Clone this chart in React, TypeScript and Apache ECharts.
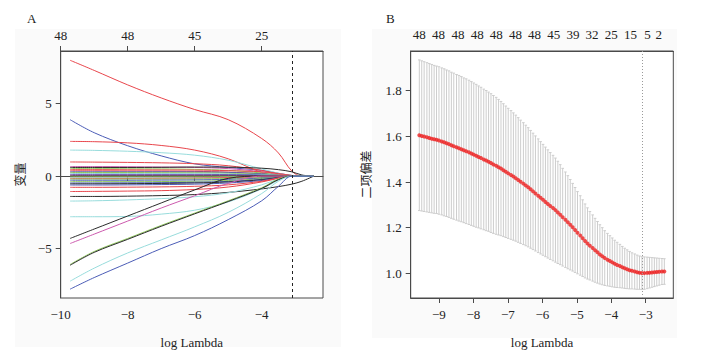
import React, { useEffect, useRef } from "react";
import * as echarts from "echarts";

// ---------- Panel A: coefficient paths ----------
const pathLogLambda = [-9.72, -9, -8, -7, -6, -5, -4, -3.5, -3.1, -2.8, -2.45];
const pathColors = [
  "red", "blue", "red", "cyan", "red", "magenta", "black", "green", "red", "red",
  "blue", "green", "cyan", "blue", "magenta", "black", "green", "cyan", "red", "green",
  "blue", "green", "blue", "black", "blue", "red", "red", "black", "cyan", "cyan",
  "black", "magenta", "green", "black", "cyan", "blue",
];
const pathValues = [
  [8.0, 7.3, 6.3, 5.4, 4.6, 3.9, 2.6, 1.6, 0.35, 0, 0],
  [3.9, 3.0, 2.1, 1.4, 0.85, 0.6, 0.4, 0.2, 0.05, 0, 0],
  [2.4, 2.38, 2.3, 2.12, 1.8, 1.2, 0.25, 0, 0, 0, 0],
  [1.8, 1.78, 1.72, 1.62, 1.45, 1.1, 0.5, 0.2, 0.02, 0, 0],
  [0.98, 0.97, 0.95, 0.92, 0.86, 0.72, 0.4, 0.15, 0, 0, 0],
  [0.66, 0.66, 0.65, 0.63, 0.6, 0.52, 0.3, 0.1, 0, 0, 0],
  [0.6, 0.6, 0.6, 0.61, 0.63, 0.62, 0.55, 0.45, 0.3, 0.08, 0],
  [0.52, 0.52, 0.51, 0.5, 0.47, 0.4, 0.22, 0.08, 0, 0, 0],
  [0.45, 0.45, 0.44, 0.43, 0.42, 0.38, 0.3, 0.18, 0.05, 0, 0],
  [0.37, 0.37, 0.36, 0.35, 0.33, 0.28, 0.15, 0.05, 0, 0, 0],
  [0.3, 0.3, 0.3, 0.3, 0.29, 0.26, 0.16, 0.06, 0, 0, 0],
  [0.25, 0.25, 0.25, 0.24, 0.23, 0.2, 0.12, 0.04, 0, 0, 0],
  [0.18, 0.18, 0.18, 0.18, 0.17, 0.15, 0.1, 0.05, 0, 0, 0],
  [0.12, 0.12, 0.12, 0.12, 0.12, 0.11, 0.08, 0.03, 0, 0, 0],
  [0.07, 0.07, 0.07, 0.07, 0.07, 0.06, 0.04, 0.02, 0, 0, 0],
  [0.02, 0.02, 0.02, 0.02, 0.02, 0.02, 0.01, 0, 0, 0, 0],
  [-0.05, -0.05, -0.05, -0.05, -0.05, -0.04, -0.02, 0, 0, 0, 0],
  [-0.1, -0.1, -0.1, -0.1, -0.1, -0.08, -0.05, -0.02, 0, 0, 0],
  [-0.15, -0.15, -0.15, -0.14, -0.13, -0.1, -0.05, 0, 0, 0, 0],
  [-0.2, -0.2, -0.2, -0.2, -0.19, -0.16, -0.1, -0.04, 0, 0, 0],
  [-0.28, -0.28, -0.28, -0.27, -0.26, -0.22, -0.14, -0.06, 0, 0, 0],
  [-0.38, -0.38, -0.38, -0.37, -0.35, -0.3, -0.18, -0.07, 0, 0, 0],
  [-0.47, -0.47, -0.46, -0.45, -0.42, -0.36, -0.22, -0.08, 0, 0, 0],
  [-0.53, -0.53, -0.52, -0.5, -0.47, -0.4, -0.25, -0.1, 0, 0, 0],
  [-0.61, -0.61, -0.6, -0.58, -0.55, -0.47, -0.3, -0.12, 0, 0, 0],
  [-0.77, -0.77, -0.76, -0.74, -0.7, -0.6, -0.35, -0.12, 0, 0, 0],
  [-1.06, -1.05, -1.03, -1.0, -0.92, -0.75, -0.4, -0.15, 0, 0, 0],
  [-1.4, -1.4, -1.38, -1.34, -1.27, -1.12, -0.88, -0.72, -0.55, -0.35, 0],
  [-1.72, -1.7, -1.64, -1.55, -1.42, -1.15, -0.6, -0.2, 0, 0, 0],
  [-2.8, -2.8, -2.78, -2.62, -2.35, -1.78, -0.88, -0.28, 0, 0, 0],
  [-4.3, -3.65, -2.75, -1.85, -0.95, -0.15, 0, 0, 0, 0, 0],
  [-4.65, -4.0, -3.1, -2.2, -1.35, -0.5, 0, 0, 0, 0, 0],
  [-6.1, -5.2, -4.3, -3.4, -2.55, -1.7, -0.8, -0.2, 0, 0, 0],
  [-6.15, -5.26, -4.36, -3.46, -2.6, -1.75, -0.85, -0.24, 0, 0, 0],
  [-7.25, -6.35, -5.3, -4.4, -3.5, -2.5, -1.2, -0.35, 0, 0, 0],
  [-7.8, -7.0, -6.0, -5.0, -4.1, -3.0, -1.7, -0.7, 0, 0, 0],
];
const topTicksA = [-10, -8, -6, -4];
const topLabelsA = ["48", "48", "45", "25"];
const bottomTicksA = [-10, -8, -6, -4];
const yTicksA = [-5, 0, 5];

// ---------- Panel B: cross-validation curve ----------
const cvLogLambda = [
  -9.57, -9.5, -9.43, -9.35, -9.28, -9.21, -9.14, -9.07, -9.0, -8.92,
  -8.85, -8.78, -8.71, -8.64, -8.57, -8.49, -8.42, -8.35, -8.28, -8.21,
  -8.13, -8.06, -7.99, -7.92, -7.85, -7.78, -7.7, -7.63, -7.56, -7.49,
  -7.42, -7.34, -7.27, -7.2, -7.13, -7.06, -6.99, -6.91, -6.84, -6.77,
  -6.7, -6.63, -6.55, -6.48, -6.41, -6.34, -6.27, -6.2, -6.12, -6.05,
  -5.98, -5.91, -5.84, -5.77, -5.69, -5.62, -5.55, -5.48, -5.41, -5.33,
  -5.26, -5.19, -5.12, -5.05, -4.98, -4.9, -4.83, -4.76, -4.69, -4.62,
  -4.54, -4.47, -4.4, -4.33, -4.26, -4.19, -4.11, -4.04, -3.97, -3.9,
  -3.83, -3.75, -3.68, -3.61, -3.54, -3.47, -3.4, -3.32, -3.25, -3.18,
  -3.11, -3.04, -2.96, -2.89, -2.82, -2.75, -2.68, -2.61, -2.53, -2.46,
];
const cvMean = [
  1.605, 1.602, 1.599, 1.596, 1.593, 1.59, 1.587, 1.585, 1.582, 1.578,
  1.574, 1.57, 1.566, 1.561, 1.557, 1.552, 1.548, 1.544, 1.539, 1.535,
  1.53, 1.525, 1.52, 1.515, 1.51, 1.505, 1.499, 1.494, 1.489, 1.483,
  1.477, 1.471, 1.465, 1.459, 1.452, 1.445, 1.438, 1.431, 1.424, 1.417,
  1.409, 1.401, 1.393, 1.385, 1.377, 1.368, 1.359, 1.35, 1.34, 1.331,
  1.322, 1.313, 1.304, 1.295, 1.286, 1.277, 1.267, 1.257, 1.246, 1.235,
  1.224, 1.213, 1.202, 1.19, 1.178, 1.166, 1.154, 1.142, 1.131, 1.121,
  1.111, 1.101, 1.092, 1.083, 1.075, 1.067, 1.06, 1.054, 1.048, 1.042,
  1.037, 1.032, 1.027, 1.022, 1.018, 1.014, 1.011, 1.008, 1.005, 1.003,
  1.001, 1.001, 1.002, 1.003, 1.004, 1.005, 1.006, 1.007, 1.008, 1.008,
];
const cvSd = [
  0.33, 0.329, 0.328, 0.327, 0.326, 0.325, 0.324, 0.323, 0.323, 0.322,
  0.322, 0.321, 0.321, 0.32, 0.32, 0.319, 0.319, 0.318, 0.317, 0.317,
  0.316, 0.315, 0.314, 0.313, 0.311, 0.31, 0.308, 0.307, 0.305, 0.304,
  0.302, 0.3, 0.297, 0.294, 0.291, 0.288, 0.285, 0.282, 0.279, 0.276,
  0.273, 0.27, 0.267, 0.264, 0.261, 0.258, 0.255, 0.252, 0.249, 0.246,
  0.243, 0.24, 0.237, 0.234, 0.231, 0.228, 0.224, 0.219, 0.214, 0.209,
  0.204, 0.198, 0.192, 0.186, 0.18, 0.174, 0.168, 0.162, 0.156, 0.15,
  0.145, 0.14, 0.135, 0.13, 0.125, 0.12, 0.115, 0.111, 0.107, 0.103,
  0.099, 0.095, 0.091, 0.088, 0.085, 0.082, 0.079, 0.077, 0.075, 0.073,
  0.072, 0.071, 0.069, 0.067, 0.065, 0.063, 0.061, 0.059, 0.057, 0.056,
];
const topTicksB = [-9.57, -9.01, -8.45, -7.89, -7.34, -6.78, -6.23, -5.67, -5.11, -4.56, -4.0, -3.44, -2.95, -2.62];
const topLabelsB = ["48", "48", "48", "48", "48", "48", "48", "45", "39", "32", "25", "15", "5", "2"];
const bottomTicksB = [-9, -8, -7, -6, -5, -4, -3];
const yTicksB = [1.0, 1.2, 1.4, 1.6, 1.8];
const logLambdaMin = -3.1;

const palette: Record<string, string> = {
  black: "#2b2b2b",
  red: "#e8464c",
  green: "#8dc85a",
  blue: "#4b5cb6",
  cyan: "#98dcdc",
  magenta: "#cc5aae",
};

const FONT = '"Liberation Serif", "Noto Sans CJK SC", serif';
const AXIS_COLOR = "#4a4a4a";
const minus = (v: number, digits = 0) => {
  const s = digits > 0 ? v.toFixed(digits) : String(v);
  return s.replace("-", "\u2212");
};
const lookup = (ticks: number[], labels: string[]) => (v: number) => {
  const i = ticks.findIndex((t) => Math.abs(t - v) < 1e-6);
  return i >= 0 ? labels[i] : "";
};

export default function App() {
  const ref = useRef<HTMLDivElement>(null);

  useEffect(() => {
    if (!ref.current) return;
    const chart = echarts.init(ref.current, undefined, { renderer: "svg" });

    const labelStyle = { color: "#222", fontFamily: FONT, fontSize: 13 };
    const axisLine = { show: true, lineStyle: { color: AXIS_COLOR, width: 1 } };

    const coefSeries = pathValues.map((vals, k) => ({
      type: "line",
      xAxisIndex: 0,
      yAxisIndex: 0,
      data: pathLogLambda.map((x, i) => [x, vals[i]]),
      showSymbol: false,
      smooth: 0.35,
      lineStyle: { width: 1, color: palette[pathColors[k]] },
      silent: true,
      z: 2,
      ...(k === 0
        ? {
            markLine: {
              silent: true,
              symbol: "none",
              label: { show: false },
              lineStyle: { color: "#222", type: [3, 3], width: 1 },
              data: [{ xAxis: logLambdaMin }],
            },
          }
        : {}),
    }));

    const option: any = {
      animation: false,
      backgroundColor: "#ffffff",
      textStyle: { fontFamily: FONT },
      graphic: [
        { type: "rect", shape: { x: 15, y: 29, width: 326, height: 318 }, style: { fill: "#fafafa" }, z: -10, silent: true },
        { type: "rect", shape: { x: 372, y: 29, width: 305, height: 309 }, style: { fill: "#fafafa" }, z: -10, silent: true },
        { type: "text", x: 27, y: 12, style: { text: "A", fontFamily: FONT, fontSize: 13, fill: "#222" } },
        { type: "text", x: 386, y: 12, style: { text: "B", fontFamily: FONT, fontSize: 13, fill: "#222" } },
      ],
      grid: [
        { left: 60.7, top: 51, width: 262.3, height: 251, show: true, backgroundColor: "#ffffff", borderColor: AXIS_COLOR, borderWidth: 1, containLabel: false },
        { left: 410.7, top: 51, width: 262.6, height: 250.7, show: true, backgroundColor: "#ffffff", borderColor: AXIS_COLOR, borderWidth: 1, containLabel: false },
      ],
      xAxis: [
        {
          type: "value", gridIndex: 0, position: "bottom", min: -10, max: -2.17,
          axisLine, splitLine: { show: false },
          axisTick: { show: true, length: 5, customValues: bottomTicksA, lineStyle: { color: AXIS_COLOR } },
          axisLabel: { ...labelStyle, margin: 10, customValues: bottomTicksA, formatter: (v: number) => minus(v) },
          name: "log Lambda", nameLocation: "middle", nameGap: 38,
          nameTextStyle: { ...labelStyle },
        },
        {
          type: "value", gridIndex: 0, position: "top", min: -10, max: -2.17,
          axisLine, splitLine: { show: false },
          axisTick: { show: true, length: 5, customValues: topTicksA, lineStyle: { color: AXIS_COLOR } },
          axisLabel: { ...labelStyle, margin: 9, customValues: topTicksA, formatter: lookup(topTicksA, topLabelsA) },
        },
        {
          type: "value", gridIndex: 1, position: "bottom", min: -9.82, max: -2.2,
          axisLine, splitLine: { show: false },
          axisTick: { show: true, length: 5, customValues: bottomTicksB, lineStyle: { color: AXIS_COLOR } },
          axisLabel: { ...labelStyle, margin: 10, customValues: bottomTicksB, formatter: (v: number) => minus(v) },
          name: "log Lambda", nameLocation: "middle", nameGap: 38,
          nameTextStyle: { ...labelStyle },
        },
        {
          type: "value", gridIndex: 1, position: "top", min: -9.82, max: -2.2,
          axisLine, splitLine: { show: false },
          axisTick: { show: false },
          axisLabel: { ...labelStyle, margin: 10, customValues: topTicksB, formatter: lookup(topTicksB, topLabelsB) },
        },
      ],
      yAxis: [
        {
          type: "value", gridIndex: 0, min: -8.41, max: 8.64,
          axisLine, splitLine: { show: false },
          axisTick: { show: true, length: 5, customValues: yTicksA, lineStyle: { color: AXIS_COLOR } },
          axisLabel: { ...labelStyle, margin: 9, customValues: yTicksA, formatter: (v: number) => minus(v) },
          name: "变量", nameLocation: "middle", nameRotate: 90, nameGap: 34,
          nameTextStyle: { ...labelStyle, fontSize: 12, padding: [0, 0, 0, 0] },
        },
        {
          type: "value", gridIndex: 1, min: 0.892, max: 1.974,
          axisLine, splitLine: { show: false },
          axisTick: { show: true, length: 5, customValues: yTicksB, lineStyle: { color: AXIS_COLOR } },
          axisLabel: { ...labelStyle, margin: 9, customValues: yTicksB, formatter: (v: number) => v.toFixed(1) },
          name: "二项偏差", nameLocation: "middle", nameRotate: 90, nameGap: 38,
          nameTextStyle: { ...labelStyle, fontSize: 12 },
        },
      ],
      series: [
        ...coefSeries,
        {
          type: "custom",
          xAxisIndex: 2,
          yAxisIndex: 1,
          silent: true,
          data: cvLogLambda.map((x, i) => [x, cvMean[i] - cvSd[i], cvMean[i] + cvSd[i]]),
          encode: { x: 0, y: [1, 2] },
          renderItem: (params: any, api: any) => {
            const x = api.value(0);
            const lo = api.coord([x, api.value(1)]);
            const hi = api.coord([x, api.value(2)]);
            const w = 1.3;
            const style = { stroke: "#cdcdcd", lineWidth: 1, fill: "none" };
            return {
              type: "group",
              children: [
                { type: "line", shape: { x1: lo[0], y1: lo[1], x2: hi[0], y2: hi[1] }, style },
                { type: "line", shape: { x1: hi[0] - w, y1: hi[1], x2: hi[0] + w, y2: hi[1] }, style },
                { type: "line", shape: { x1: lo[0] - w, y1: lo[1], x2: lo[0] + w, y2: lo[1] }, style },
              ],
            };
          },
          z: 1,
        },
        {
          type: "scatter",
          xAxisIndex: 2,
          yAxisIndex: 1,
          silent: true,
          symbol: "circle",
          symbolSize: 4,
          itemStyle: { color: "#ee2222" },
          data: cvLogLambda.map((x, i) => [x, cvMean[i]]),
          z: 3,
          markLine: {
            silent: true,
            symbol: "none",
            label: { show: false },
            lineStyle: { color: "#9a9a9a", type: [1, 2], width: 1 },
            data: [{ xAxis: logLambdaMin }],
          },
        },
      ],
    };

    chart.setOption(option);
    return () => chart.dispose();
  }, []);

  return (
    <div
      ref={ref}
      style={{ position: "fixed", left: 0, top: 0, width: 705, height: 354 }}
    />
  );
}
